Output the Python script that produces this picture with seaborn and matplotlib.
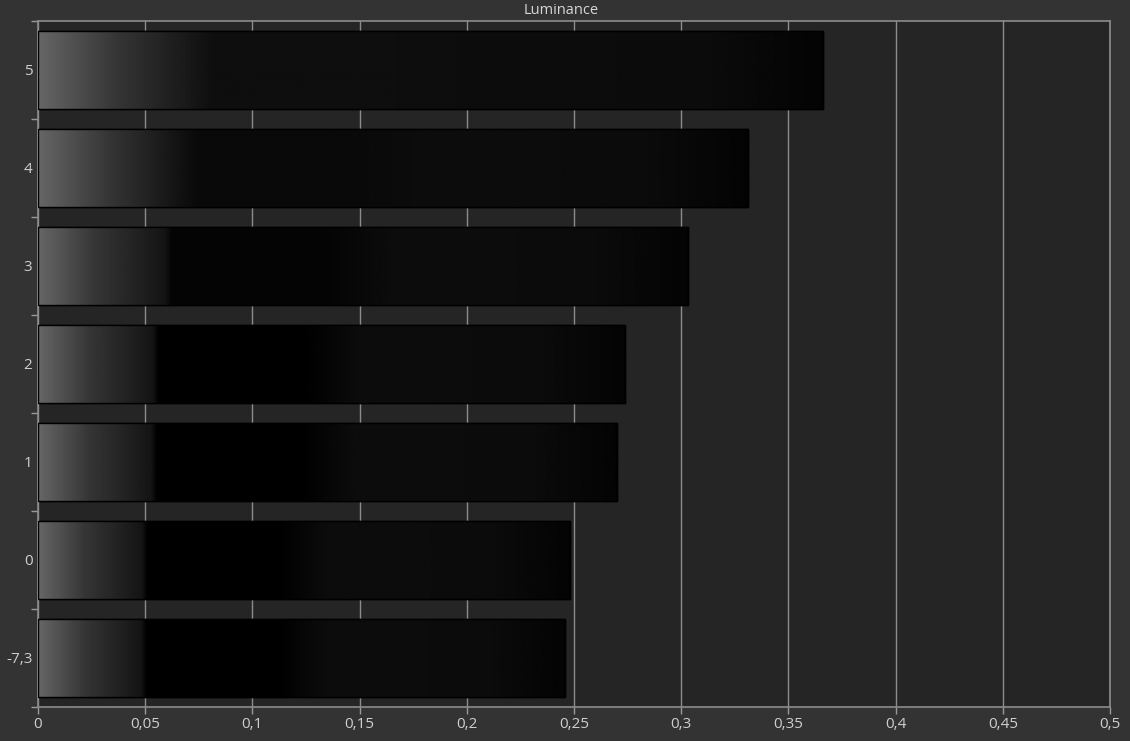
import numpy as np
import pandas as pd
import matplotlib
matplotlib.use('Agg')
import matplotlib.pyplot as plt
import seaborn as sns
from matplotlib.ticker import FuncFormatter, MultipleLocator

# values
labels = ['5', '4', '3', '2', '1', '0', '-7,3']
luminance = [0.366, 0.331, 0.303, 0.274, 0.270, 0.248, 0.246]

df = pd.DataFrame({'step': labels, 'lum': luminance})

sns.set_theme(style='dark')
plt.rcParams['font.family'] = ['Open Sans', 'DejaVu Sans']

fig = plt.figure(figsize=(11.3, 7.41), dpi=100, facecolor='#333333')
ax = fig.add_axes([0.0336, 0.0459, 0.9487, 0.9258])
ax.set_facecolor('#252525')

sns.barplot(data=df, x='lum', y='step', order=labels, orient='h',
            color='#0a0a0a', width=0.79, edgecolor='#000000', linewidth=1,
            ax=ax, zorder=2)

# gradient fill per bar: grey fade on the left, then a dark band (lighter on the top bars)
t = np.linspace(0, 1, 500)
for i, p in enumerate(ax.patches):
    band = max(0.055 - 0.018 * i, 0.0)
    end = 0.22 if i < 2 else 0.195
    fade_end = band + 0.005 if band > 0.03 else 0.08
    shade = np.interp(t, [0, end * 0.45, end, end + 0.01, 0.45, 0.55, 0.85, 1.0],
                      [0.40, 0.21, fade_end, band, band, 0.05, 0.045, 0.015])
    x0, y0 = p.get_x(), p.get_y()
    w, h = p.get_width(), p.get_height()
    im = ax.imshow(shade.reshape(1, -1), cmap='gray', vmin=0, vmax=1, aspect='auto',
                   extent=(x0, x0 + w, y0 + h, y0), zorder=2.5, interpolation='bilinear')
    im.set_clip_path(p)
    ax.add_patch(plt.Rectangle((x0, y0), w, h, fill=False, edgecolor='#000000',
                               linewidth=1, zorder=3))

ax.set_xlim(0, 0.5)
ax.set_ylim(6.5, -0.5)
ax.xaxis.set_major_locator(MultipleLocator(0.05))
ax.xaxis.set_major_formatter(FuncFormatter(
    lambda v, _: ('%g' % round(v, 2)).replace('.', ',')))
ax.grid(axis='x', color='#8c8c8c', linewidth=1, zorder=1)
ax.grid(axis='y', visible=False)
ax.set_axisbelow(True)

ax.set_yticks(np.arange(-0.5, 7, 1.0), minor=True)
ax.tick_params(axis='y', which='major', length=0, pad=4, labelsize=11, labelcolor='#cfcfcf')
ax.tick_params(axis='y', which='minor', length=5, width=1, color='#9a9a9a', left=True)
ax.tick_params(axis='x', which='major', length=5, width=1, color='#9a9a9a', bottom=True,
               labelsize=11, labelcolor='#cfcfcf', pad=2)

for s in ax.spines.values():
    s.set_visible(True)
    s.set_color('#8c8c8c')
    s.set_linewidth(1.2)

ax.set_xlabel('')
ax.set_ylabel('')
fig.text(0.4965, 0.986, 'Luminance', color='#d6d6d6', fontsize=10.5,
         ha='center', va='center')

fig.savefig('out.png', dpi=100, facecolor=fig.get_facecolor())
